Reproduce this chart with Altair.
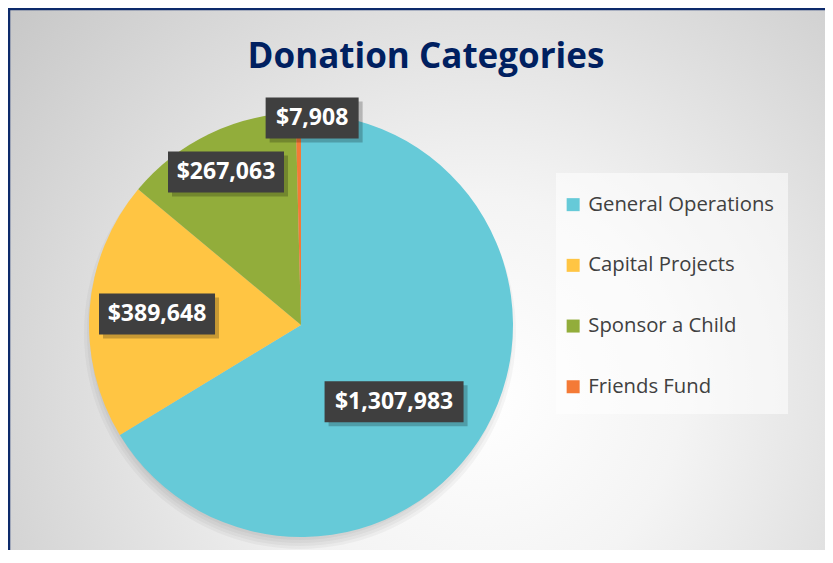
import math
import altair as alt
import pandas as pd

# ---- data ----
CATEGORIES = ["General Operations", "Capital Projects", "Sponsor a Child", "Friends Fund"]
VALUES = [1307983, 389648, 267063, 7908]
COLORS = ["#66CAD8", "#FFC543", "#92AD3B", "#F47A36"]
TITLE = "Donation Categories"

# ---- layout ----
W, H = 817, 542
CX, CY = 293, 317
R = 212
# data label placement: (distance from centre in px, angle offset from slice middle in deg)
LABEL_POS = [(120.7, 10.2), (144.4, 0.1), (170.4, -0.3), (207.3, 3.8)]
BOX_H = 41

df = pd.DataFrame({"category": CATEGORIES, "value": VALUES, "order": list(range(len(VALUES)))})
df["label"] = df["value"].map(lambda v: f"${v:,}")
total = df["value"].sum()
start = df["value"].cumsum() - df["value"]
mid = (start + df["value"] / 2) / total * 360.0
ang = [math.radians(m + LABEL_POS[i][1]) for i, m in enumerate(mid)]
df["lx"] = [CX + LABEL_POS[i][0] * math.sin(a) for i, a in enumerate(ang)]
df["ly"] = [CY - LABEL_POS[i][0] * math.cos(a) for i, a in enumerate(ang)]
bw = df["label"].str.len() * 11.5 + 24
df["bx0"] = df["lx"] - bw / 2
df["bx1"] = df["lx"] + bw / 2
df["by0"] = df["ly"] - BOX_H / 2
df["by1"] = df["ly"] + BOX_H / 2
for k in ["bx0", "bx1", "by0", "by1"]:
    df["s" + k[1:]] = df[k] + 4

one = pd.DataFrame({"t": [TITLE]})

grad = {
    "gradient": "radial",
    "x1": 0.56, "y1": 0.62, "r1": 0,
    "x2": 0.56, "y2": 0.62, "r2": 0.78,
    "stops": [
        {"offset": 0, "color": "#ffffff"},
        {"offset": 0.3, "color": "#f4f4f4"},
        {"offset": 1, "color": "#c2c2c2"},
    ],
}

bg = alt.Chart(one).mark_rect(color=grad, stroke="#0D2A6B", strokeWidth=2.5).encode(
    x=alt.value(1), x2=alt.value(W + 30), y=alt.value(1), y2=alt.value(H + 30)
)

rings = [
    alt.Chart(one).mark_arc(radius=r, theta=0, theta2=2 * math.pi, color="black", opacity=0.035).encode(
        x=alt.value(CX - 1), y=alt.value(CY + 8)
    )
    for r in [216, 213, 210, 207]
]

legend_bg = alt.Chart(one).mark_rect(color="white", opacity=0.55).encode(
    x=alt.value(548), x2=alt.value(780), y=alt.value(165), y2=alt.value(406)
)

pie = alt.Chart(df).mark_arc(radius=R).encode(
    theta=alt.Theta("value:Q", stack=True),
    color=alt.Color(
        "category:N",
        scale=alt.Scale(domain=CATEGORIES, range=COLORS),
        sort=CATEGORIES,
        legend=alt.Legend(
            title=None, orient="none", legendX=555, legendY=186.5,
            symbolType="square", symbolSize=169, symbolStrokeWidth=0, symbolOpacity=1,
            labelFont="Open Sans", labelFontSize=20.3, labelColor="#404040",
            rowPadding=39.7, labelOffset=5, padding=0, labelLimit=300,
        ),
    ),
    order=alt.Order("order:Q"),
    x=alt.value(CX),
    y=alt.value(CY),
)

shadow = alt.Chart(df).mark_rect(color="black", opacity=0.22).encode(
    x=alt.X("sx0:Q", scale=None, axis=None), x2="sx1:Q",
    y=alt.Y("sy0:Q", scale=None, axis=None), y2="sy1:Q",
)
boxes = alt.Chart(df).mark_rect(color="#3F3F3F").encode(
    x=alt.X("bx0:Q", scale=None, axis=None), x2="bx1:Q",
    y=alt.Y("by0:Q", scale=None, axis=None), y2="by1:Q",
)
texts = alt.Chart(df).mark_text(
    font="Open Sans", fontWeight="bold", fontSize=23, color="white", align="center", baseline="middle"
).encode(
    x=alt.X("lx:Q", scale=None, axis=None),
    y=alt.Y("ly:Q", scale=None, axis=None),
    text="label:N",
)

title = alt.Chart(one).mark_text(
    font="Open Sans", fontWeight="bold", fontSize=35, color="#002060", align="center", baseline="middle"
).encode(x=alt.value(418), y=alt.value(49), text="t:N")

chart = alt.layer(bg, *rings, legend_bg, pie, shadow, boxes, texts, title).properties(
    width=W, height=H, padding=0, autosize=alt.AutoSizeParams(type="none")
).configure_view(stroke=None)

chart.save("out.html", embed_options={"renderer": "svg", "actions": False})
